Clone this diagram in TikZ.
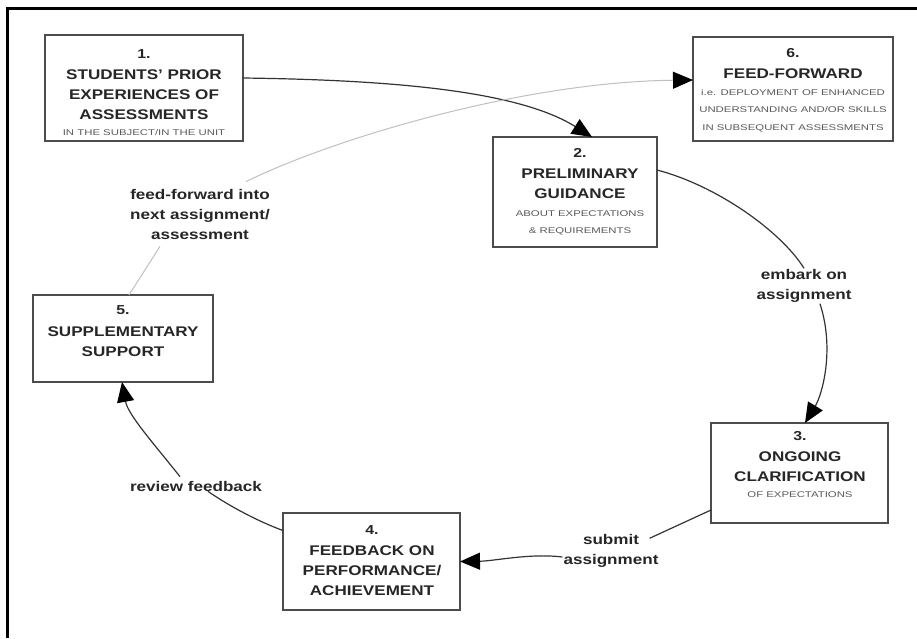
\documentclass[tikz,border=0pt]{standalone}
\usepackage{fontspec}
\newfontfamily\tfont[FakeStretch=1.22]{Liberation Sans}
\newfontfamily\sfont[FakeStretch=1.37]{Liberation Sans}
\usetikzlibrary{arrows.meta}
\newcommand\bnum[1]{{\fontsize{13}{20}\selectfont #1}}
\newcommand\bsm[1]{{\sfont\mdseries\fontsize{8.3}{20}\selectfont\color{black!65}#1}}
\tikzset{
  box/.style={draw=black!70, line width=1.5pt, inner sep=0pt, outer sep=0pt},
  boxtext/.style={align=center, inner sep=0pt, anchor=north, text=black!85,
    font=\tfont\bfseries\fontsize{14}{20}\selectfont},
  lbl/.style={align=center, inner sep=1pt, text=black!85,
    font=\tfont\bfseries\fontsize{14}{20}\selectfont},
  conn/.style={draw=black!80, line width=1.2pt},
  ffline/.style={draw=black!25, line width=1pt},
  tip/.style={-{Triangle[length=20pt,width=17pt,color=black]}}
}
\begin{document}
\begin{tikzpicture}[x=1pt,y=1pt]
\useasboundingbox (0,0) rectangle (917,-638);
\draw[line width=3pt] (7.5,-638) -- (7.5,-8.5) -- (917,-8.5);

% boxes
\node[box, minimum width=198pt, minimum height=106pt] (b1) at (144,-88) {};
\node[box, minimum width=200pt, minimum height=104pt] (b6) at (793,-89) {};
\node[box, minimum width=164pt, minimum height=110pt] (b2) at (575,-192) {};
\node[box, minimum width=180pt, minimum height=87pt] (b5) at (123,-338.5) {};
\node[box, minimum width=177pt, minimum height=100pt] (b3) at (799.5,-473) {};
\node[box, minimum width=177pt, minimum height=97pt] (b4) at (371.5,-561.5) {};

% box texts
\node[boxtext] (t1) at (144,-49.5) {\bnum{1.}\\[1pt] STUDENTS’ PRIOR\\ EXPERIENCES OF\\ ASSESSMENTS\\[-4pt] \bsm{IN THE SUBJECT/IN THE UNIT}};
\node[boxtext] (t6) at (793,-48) {\bnum{6.}\\[1pt] FEED-FORWARD\\[-3pt] \bsm{i.e. DEPLOYMENT OF ENHANCED}\\[-2.5pt] \bsm{UNDERSTANDING AND/OR SKILLS}\\[-2.5pt] \bsm{IN SUBSEQUENT ASSESSMENTS}};
\node[boxtext] (t2) at (580,-148) {\bnum{2.}\\[1pt] PRELIMINARY\\ GUIDANCE\\[-2pt] \bsm{ABOUT EXPECTATIONS}\\[-2.5pt] \bsm{\& REQUIREMENTS}};
\node[boxtext] (t3) at (800,-431.5) {\bnum{3.}\\[1pt] ONGOING\\ CLARIFICATION\\[-4pt] \bsm{OF EXPECTATIONS}};
\node[boxtext] (t4) at (372,-525) {\bnum{4.}\\[1pt] FEEDBACK ON\\ PERFORMANCE/\\ ACHIEVEMENT};
\node[boxtext] (t5) at (123,-305.5) {\bnum{5.}\\[2pt] SUPPLEMENTARY\\ SUPPORT};

% labels
\node[lbl] (lff) at (200,-214) {feed-forward into\\ next assignment/\\ assessment};
\node[lbl] (lemb) at (804,-286) {embark on\\ assignment};
\node[lbl] (lsub) at (611,-551) {submit\\ assignment};
\node[lbl] (lrev) at (196,-486) {review feedback};

% connectors
\draw[conn,tip] ([yshift=10pt]b1.east) .. controls (400,-80) and (520,-92) .. ([xshift=17pt]b2.north);
\draw[conn] ([yshift=22pt]b2.east) .. controls (715,-185) and (780,-230) .. (lemb.north);
\draw[conn,tip] ([xshift=16pt]lemb.south) .. controls (835,-350) and (822,-395) .. ([xshift=5.5pt]b3.north);
\draw[conn] ([yshift=-37pt]b3.west) -- ([xshift=-10pt,yshift=-5pt]lsub.north east);
\draw[conn,tip] ([yshift=-6pt]lsub.west) .. controls (530,-553) and (495,-561) .. (b4.east);
\draw[conn] ([xshift=12pt,yshift=1pt]lrev.south) .. controls (235,-510) and (265,-524) .. ([yshift=31pt]b4.west);
\draw[conn,tip] ([xshift=-16pt,yshift=3pt]lrev.north) .. controls (155,-445) and (128,-415) .. ([xshift=-1pt]b5.south);
\draw[ffline] ([xshift=6pt]b5.north) -- ([xshift=-40pt,yshift=-6pt]lff.south);
\draw[ffline,tip] ([xshift=-25pt,yshift=6pt]lff.north east) .. controls (330,-140) and (520,-82) .. ([yshift=9pt]b6.west);
\end{tikzpicture}
\end{document}
